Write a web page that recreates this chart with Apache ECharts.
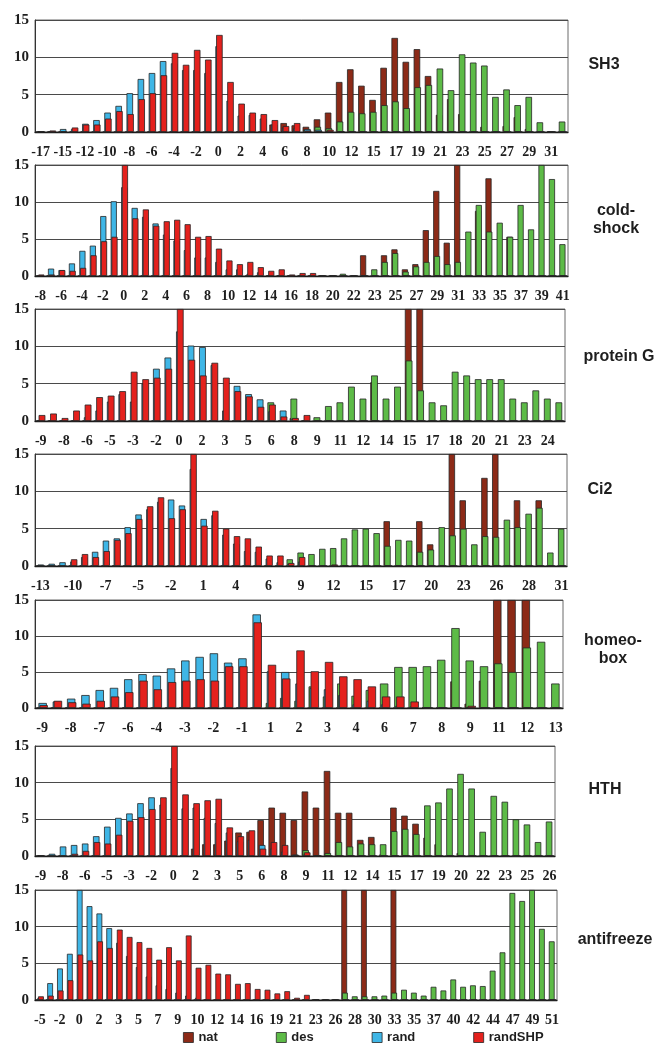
<!DOCTYPE html>
<html><head><meta charset="utf-8">
<script src="https://cdn.jsdelivr.net/npm/echarts@6/dist/echarts.min.js"></script>
<style>html,body{margin:0;padding:0;background:#fff}#c{width:663px;height:1050px}</style>
</head><body><div id="c"></div>
<script>
// ---------- SH3 (48 bins) ----------
const sh3Labels = ["-17","-15","-12","-10","-8","-6","-4","-2","0","2","4","6","8","10","12","15","17","19","21","23","25","27","29","31"];
const sh3Nat  = [0,0,0,0,0,0,0,0,0,0, 0,0,0,0,0,0,0,0,0,0, 0,1.0,1.2,0.9,0.7,1.7,2.6,6.7,8.4,6.2, 4.3,8.6,12.6,9.4,11.1,7.5,2.3,4.4,2.4,0, 0.7,0,0.8,2.0,0.4,0,0.1,0];
const sh3Des  = [0,0,0,0,0,0,0,0,0,0, 0,0,0,0,0,0,0,0,0,0, 0,0,0,0,0.3,0.7,0.5,1.4,2.7,2.5, 2.7,3.6,4.1,3.2,6.0,6.3,8.5,5.6,10.4,9.3, 8.9,4.7,5.7,3.6,4.7,1.3,0,1.4];
const sh3Rand = [0.1,0,0.4,0.4,1.1,1.6,2.6,3.5,5.2,7.1, 7.9,9.5,9.2,8.3,8.3,7.9,11.5,4.2,2.2,2.3, 1.8,1.0,0.6,0.5,0.4,0.3,0.1,0,0,0, 0,0,0,0,0,0,0,0,0,0, 0,0,0,0,0,0,0,0];
const sh3Shp  = [0.1,0.2,0.05,0.6,1.0,1.0,1.8,2.8,2.4,4.4, 5.2,7.6,10.6,9.0,11.0,9.7,13.0,6.7,3.8,2.6, 2.4,1.6,0.8,1.2,0.2,0.1,0.3,0.1,0,0, 0,0,0,0,0,0,0,0,0,0, 0,0,0,0,0,0,0,0];

// ---------- cold-shock (51 bins) ----------
const csLabels = ["-8","-6","-4","-2","0","2","4","6","8","10","12","14","16","18","20","22","23","25","27","29","31","33","35","37","39","41"];
const csNat  = [0,0,0,0,0,0,0,0,0,0, 0,0,0,0,0,0,0,0,0,0, 0,0,0,0,0,0,0,0,0,0, 0,2.8,0,2.8,3.6,0.9,1.6,6.2,11.5,4.5, 15,0,8.8,13.2,0,5.3,0,0,0,0,0];
const csDes  = [0,0,0,0,0,0,0,0,0,0, 0,0,0,0,0,0,0,0,0,0, 0,0,0,0,0,0,0,0,0,0.3, 0,0,0.9,1.9,3.1,0.6,1.3,1.9,2.7,1.6, 1.9,6.0,9.6,6.0,7.2,5.3,9.6,6.3,15,13.1,4.3];
const csRand = [0.1,1.0,0.8,1.7,3.4,4.1,8.1,10.1,12,9.2, 8.0,7.1,5.6,4.8,3.5,2.5,2.5,1.9,0.9,0.9, 0.3,0.5,0,0,0,0,0,0,0,0, 0,0,0,0,0,0,0,0,0,0, 0,0,0,0,0,0,0,0,0,0,0];
const csShp  = [0.2,0.2,0.8,0.7,1.1,2.8,4.7,5.3,15,7.8, 9.0,6.8,7.4,7.6,7.0,5.3,5.4,3.7,2.1,1.6, 1.9,1.2,0.7,0.9,0.2,0.4,0.4,0,0,0, 0,0,0,0,0,0,0,0,0,0, 0,0,0,0,0,0,0,0,0,0,0];

// ---------- protein G (46 bins) ----------
const pgLabels = ["-9","-8","-6","-5","-3","-2","0","2","3","5","6","8","9","11","12","14","15","17","18","20","21","23","24"];
const pgNat  = [0,0,0,0,0,0,0,0,0,0, 0,0,0,0,0,0,0,0,0,0, 0,0,0.4,0,0,0,0,0,0,5.2, 0,0,15,15,0,0,0,0,0,0, 0,0,0,0,0,0];
const pgDes  = [0,0,0,0,0,0,0,0,0,0, 0,0,0,0,0,0,0,0,0,0, 2.5,0,3.0,0,0.5,2.0,2.5,4.6,3.0,6.1, 3.0,4.6,8.1,4.1,2.5,2.1,6.6,6.1,5.6,5.6, 5.6,3.0,2.5,4.1,3.0,2.5];
const pgRand = [0,0,0,0,0.5,1.4,2.6,3.6,2.6,5.0, 7.0,8.5,12,10.1,9.9,7.5,1.4,4.7,3.6,2.9, 1.3,1.4,0.3,0,0,0,0,0,0,0, 0,0,0,0,0,0,0,0,0,0, 0,0,0,0,0,0];
const pgShp  = [0.8,1.0,0.4,1.4,2.2,3.2,3.4,4.0,6.6,5.6, 5.8,7.0,15,8.2,6.1,7.8,5.8,4.0,3.3,1.9, 2.2,0.6,0.4,0.8,0,0,0,0,0,0, 0,0,0,0,0,0,0,0,0,0, 0,0,0,0,0,0];

// ---------- Ci2 (49 bins) ----------
const ciLabels = ["-13","-10","-7","-5","-2","1","4","6","9","12","15","17","20","23","26","28","31"];
const ciNat  = [0,0,0,0,0,0,0,0,0,0, 0,0,0,0,0,0,0,0,0,0, 0,0,0,0,0,0,0,0,0,0, 0,0,6.0,0,0,6.0,2.9,0,15,8.8, 0,11.8,15,0,8.8,0,8.8,0,0];
const ciDes  = [0,0,0,0,0,0,0,0,0,0, 0,0,0,0,0,0,0,0,0,0, 0,0,0,0.9,1.8,1.6,2.3,2.4,3.7,4.9, 5.0,4.4,2.7,3.5,3.4,1.9,2.2,5.2,4.1,5.0, 2.9,4.0,3.9,6.2,5.2,7.0,7.8,1.8,5.0];
const ciRand = [0.2,0.3,0.5,0.6,1.2,1.9,3.4,3.7,5.2,6.9, 7.6,8.6,8.9,8.1,13,6.3,6.8,4.2,3.0,2.0, 1.9,1.0,0.5,0.3,0.6,0.1,0,0,0,0, 0,0,0,0,0,0,0,0,0,0, 0,0,0,0,0,0,0,0,0];
const ciShp  = [0,0,0,0.9,1.6,1.2,2.0,3.5,4.4,6.3, 8.0,9.2,6.4,7.6,15,5.4,7.4,5.0,4.0,3.7, 2.6,1.4,1.4,0.4,1.2,0,0,0.2,0.1,0, 0,0,0,0,0,0,0,0,0,0, 0,0,0,0,0,0,0,0,0];

// ---------- homeobox (37 bins) ----------
const hbLabels = ["-9","-8","-7","-6","-4","-3","-2","-1","1","2","3","4","6","7","8","9","11","12","13"];
const hbNat  = [0,0,0,0,0,0,0,0,0,0, 0,0,0,0,0,0,0,0,0,0, 0,0,0,0,0,0,0,0.1,0.1,3.7, 0.6,3.8,15,15,15,0,0];
const hbDes  = [0,0,0,0,0,0,0,0,0,0, 0,0,0,0,0,0,0.7,1.4,1.0,3.0, 1.6,3.4,1.7,2.5,3.4,5.7,5.7,5.8,6.7,11.1, 6.6,5.8,6.2,5.0,8.4,9.2,3.4];
const hbRand = [0.7,0.9,1.3,1.8,2.5,2.8,4.0,4.7,4.5,5.5, 6.6,7.1,7.6,6.3,6.9,13.0,5.1,5.0,3.4,2.8, 2.6,1.8,0.5,1.0,0.5,0.3,0.2,0,0,0, 0,0,0,0,0,0,0];
const hbShp  = [0.4,1.0,0.8,0.6,1.0,1.6,2.2,3.8,2.6,3.6, 3.8,4.0,3.8,5.8,5.8,11.9,6.0,4.1,8.0,5.1, 6.4,4.4,4.0,3.0,1.6,1.6,0.9,0,0,0, 0.3,0,0,0,0,0,0];

// ---------- HTH (47 bins) ----------
const hthLabels = ["-9","-8","-6","-5","-3","-2","0","2","3","5","6","8","9","11","12","14","15","17","19","20","22","23","25","26"];
const hthNat  = [0,0,0,0,0,0,0,0,0,0, 0,0,0,0,1.0,1.6,1.6,2.1,3.2,3.3, 4.9,6.6,5.9,4.9,8.8,6.6,11.6,5.9,5.9,2.2, 2.6,0.2,6.6,5.5,4.4,2.5,1.6,0,0.4,0, 0,0,0,0,0,0,0];
const hthDes  = [0,0,0,0,0,0,0,0,0,0, 0,0,0,0,0,0,0,0,0,0, 0,0,0,0,0.8,0,0.4,1.9,1.3,1.7, 1.6,1.6,3.4,3.7,3.0,6.9,7.3,9.2,11.2,9.2, 3.3,8.2,7.4,5.0,4.3,1.9,4.7];
const hthRand = [0.1,0.3,1.3,1.5,1.7,2.7,4.0,5.2,5.8,7.2, 8.0,7.0,12,6.5,6.6,5.2,4.5,3.2,2.0,2.2, 1.5,1.0,0.6,0.2,0.2,0,0,0,0,0, 0,0,0,0,0,0,0,0,0,0, 0,0,0,0,0,0,0];
const hthShp  = [0,0,0,0.3,0.7,1.9,1.7,2.9,4.8,5.3, 6.4,8.0,15,8.4,7.2,7.6,7.8,3.9,2.7,3.5, 1.0,1.9,1.5,0,0.5,0,0,0,0,0, 0,0,0,0,0,0,0,0,0,0, 0,0,0,0,0,0,0];

// ---------- antifreeze (53 bins) ----------
const afLabels = ["-5","-2","0","2","3","5","7","9","10","12","14","16","19","21","23","26","28","30","33","35","37","40","42","44","47","49","51"];
const afNat  = [0,0,0,0,0,0,0,0,0,0, 0,0,0,0,0,0,0,0,0,0, 0,0,0,0,0,0,0,0,0,0, 0,15,0,15,0,0,15,0,0,0, 0,0,0,0,0,0,0,0,0,0, 0,0,0];
const afDes  = [0,0,0,0,0,0,0,0,0,0, 0,0,0,0,0,0,0,0,0,0, 0,0,0,0,0,0,0,0,0,0, 0,1.0,0.5,0.5,0.5,0.6,1.0,1.4,1.0,0.6, 1.8,1.3,2.8,1.8,2.0,1.9,4.0,6.5,14.6,13.5, 15,9.7,8.0];
const afRand = [0.3,2.3,4.3,6.3,15,12.8,11.8,9.8,7.8,6.0, 4.5,3.2,2.0,1.5,1.0,0.6,0.3,0,0,0, 0,0,0,0,0,0,0,0,0,0, 0,0,0,0,0,0,0,0,0,0, 0,0,0,0,0,0,0,0,0,0, 0,0,0];
const afShp  = [0.5,0.6,1.3,2.7,6.2,5.4,8.0,7.1,9.6,8.6, 7.9,7.1,5.5,7.2,5.4,8.8,4.4,4.8,3.6,3.5, 2.2,2.3,1.5,1.4,0.9,1.2,0.3,0.7,0.1,0, 0,0,0,0,0,0,0,0,0,0, 0,0,0,0,0,0,0,0,0,0, 0,0,0];

const seriesNames = ["nat","des","rand","randSHP"];
const seriesColors = ["#8C2A17","#5DBB47","#3FB6E6","#E4211D"];

// layout of the seven panels
const PANELS = [
  {title:"SH3",         labels:sh3Labels, data:[sh3Nat,sh3Des,sh3Rand,sh3Shp], step:2, top:20,  zero:132, right:568, tx:604, ty:65},
  {title:"cold-\nshock", labels:csLabels,  data:[csNat,csDes,csRand,csShp],     step:2, top:165, zero:276, right:568, tx:616, ty:220},
  {title:"protein G",   labels:pgLabels,  data:[pgNat,pgDes,pgRand,pgShp],     step:2, top:309, zero:421, right:565, tx:619, ty:357},
  {title:"Ci2",         labels:ciLabels,  data:[ciNat,ciDes,ciRand,ciShp],     step:3, top:454, zero:566, right:567, tx:600, ty:490},
  {title:"homeo-\nbox",  labels:hbLabels,  data:[hbNat,hbDes,hbRand,hbShp],     step:2, top:600, zero:708, right:563, tx:613, ty:650},
  {title:"HTH",         labels:hthLabels, data:[hthNat,hthDes,hthRand,hthShp], step:2, top:746, zero:856, right:555, tx:605, ty:790},
  {title:"antifreeze",  labels:afLabels,  data:[afNat,afDes,afRand,afShp],     step:2, top:890, zero:1000,right:557, tx:615, ty:940}
];

const grids=[], xAxes=[], yAxes=[], series=[], graphics=[];
PANELS.forEach((p,k)=>{
  const n = p.data[3].length;
  grids.push({left:35, top:p.top, width:p.right-35, height:p.zero-p.top, show:true,
              borderColor:'#6a6a6a', borderWidth:1, backgroundColor:'rgba(0,0,0,0)'});
  const cats = []; for (let i=0;i<n;i++) cats.push(String(i));
  xAxes.push({type:'category', gridIndex:k, data:cats, boundaryGap:true,
    axisTick:{show:false},
    axisLine:{show:true, lineStyle:{color:'#1a1a1a', width:1.3}},
    axisLabel:{interval:p.step-1, margin:13, color:'#1e1e1e',
      fontFamily:'Liberation Serif', fontWeight:'bold', fontSize:14,
      formatter:(v,i)=> (i % p.step === 0 ? (p.labels[i/p.step] || '') : '')},
    splitLine:{show:false}});
  yAxes.push({type:'value', gridIndex:k, min:0, max:15, interval:5,
    axisLine:{show:true, lineStyle:{color:'#333', width:1}},
    axisTick:{show:false},
    axisLabel:{margin:6, color:'#1e1e1e', fontFamily:'Liberation Serif', fontWeight:'bold', fontSize:15},
    splitLine:{show:true, lineStyle:{color:'#4a4a4a', width:1.2}}});
  p.data.forEach((arr,s)=>{
    series.push({type:'bar', name:seriesNames[s], xAxisIndex:k, yAxisIndex:k, data:arr,
      barGap:'-88%', barCategoryGap:'20%', clip:true,
      itemStyle:{color:seriesColors[s], borderColor:'#262626', borderWidth:0.8},
      emphasis:{disabled:true}, animation:false});
  });
  graphics.push({type:'text', x:p.tx, y:p.ty, style:{text:p.title, fill:'#1e1e1e',
    font:'bold 16px "Liberation Sans", Arial, sans-serif', textAlign:'center', textVerticalAlign:'middle', lineHeight:18}});
});

const chart = echarts.init(document.getElementById('c'), null, {renderer:'canvas'});
chart.setOption({
  backgroundColor:'#ffffff',
  animation:false,
  grid:grids, xAxis:xAxes, yAxis:yAxes, series:series,
  graphic:graphics,
  legend:{data:seriesNames, top:1031, left:183, padding:0, icon:'rect', itemWidth:10, itemHeight:10, itemGap:58,
    textStyle:{fontFamily:'Liberation Sans', fontWeight:'bold', fontSize:13, color:'#1e1e1e'},
    itemStyle:{borderColor:'#262626', borderWidth:0.8}}
});
</script></body></html>
